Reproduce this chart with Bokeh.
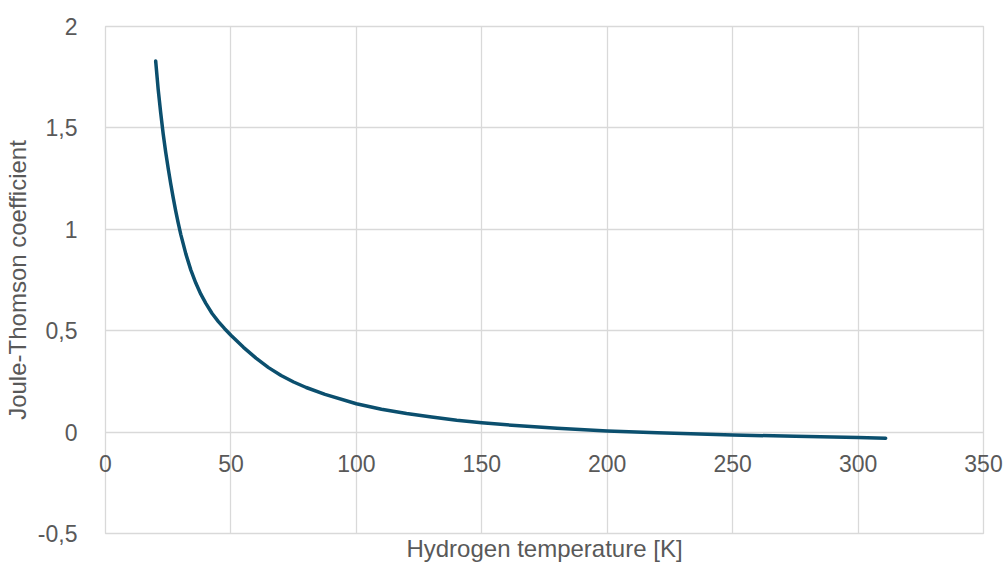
from bokeh.plotting import figure
from bokeh.models import FixedTicker, Range1d
from bokeh.embed import file_html
from bokeh.resources import INLINE

# Data
temperature_K = [20, 21, 22, 23, 24, 25, 26, 27, 28, 29, 30, 32, 34, 36, 38, 40, 42.5, 45, 47.5, 50,
                 55, 60, 65, 70, 75, 80, 87.5, 100, 110, 120, 130, 140, 150, 165, 180,
                 200, 220, 250, 275, 300, 311]
jt_coefficient = [1.83, 1.69, 1.575, 1.47, 1.38, 1.30, 1.225, 1.155, 1.09, 1.03, 0.975, 0.88, 0.80,
                  0.735, 0.68, 0.635, 0.585, 0.545, 0.51, 0.478,
                  0.418, 0.365, 0.318, 0.279, 0.247, 0.22, 0.186, 0.14, 0.113, 0.092, 0.074,
                  0.058, 0.046, 0.031, 0.019, 0.006, -0.003, -0.014, -0.021, -0.027, -0.03]

x_ticks = [0, 50, 100, 150, 200, 250, 300, 350]
x_tick_labels = ["0", "50", "100", "150", "200", "250", "300", "350"]
y_ticks = [-0.5, 0, 0.5, 1, 1.5, 2]
y_tick_labels = ["-0,5", "0", "0,5", "1", "1,5", "2"]

x_title = "Hydrogen temperature [K]"
y_title = "Joule-Thomson coefficient"

FONT = "Liberation Sans"
TXT = "#595959"
GRID = "#d9d9d9"
LINE = "#0b4f6e"

p = figure(width=1005, height=564, output_backend="svg", toolbar_location=None,
           x_range=Range1d(0, 350), y_range=Range1d(-0.5, 2),
           min_border_left=105, min_border_right=22, min_border_top=26, min_border_bottom=29)

p.outline_line_color = GRID
p.outline_line_width = 1.3

p.xgrid.ticker = FixedTicker(ticks=x_ticks)
p.ygrid.ticker = FixedTicker(ticks=y_ticks)
p.grid.grid_line_color = GRID
p.grid.grid_line_width = 1.3

for ax, ticks, labels, title in ((p.xaxis[0], x_ticks, x_tick_labels, x_title),
                                 (p.yaxis[0], y_ticks, y_tick_labels, y_title)):
    ax.ticker = FixedTicker(ticks=ticks)
    ax.major_label_overrides = {t: l for t, l in zip(ticks, labels)}
    ax.major_tick_line_color = None
    ax.minor_tick_line_color = None
    ax.axis_line_color = None
    ax.major_label_text_font = FONT
    ax.major_label_text_font_size = "23px"
    ax.major_label_text_color = TXT
    ax.axis_label = title
    ax.axis_label_text_font = FONT
    ax.axis_label_text_font_size = "24px"
    ax.axis_label_text_font_style = "normal"
    ax.axis_label_text_color = TXT

p.yaxis[0].major_label_standoff = 22
p.yaxis[0].axis_label_standoff = 4

p.xaxis[0].major_label_standoff = -85
p.xaxis[0].axis_label_standoff = 60

p.line(temperature_K, jt_coefficient, line_color=LINE, line_width=3.5,
       line_join="round", line_cap="round")

open("out.html", "w").write(file_html(p, INLINE))
